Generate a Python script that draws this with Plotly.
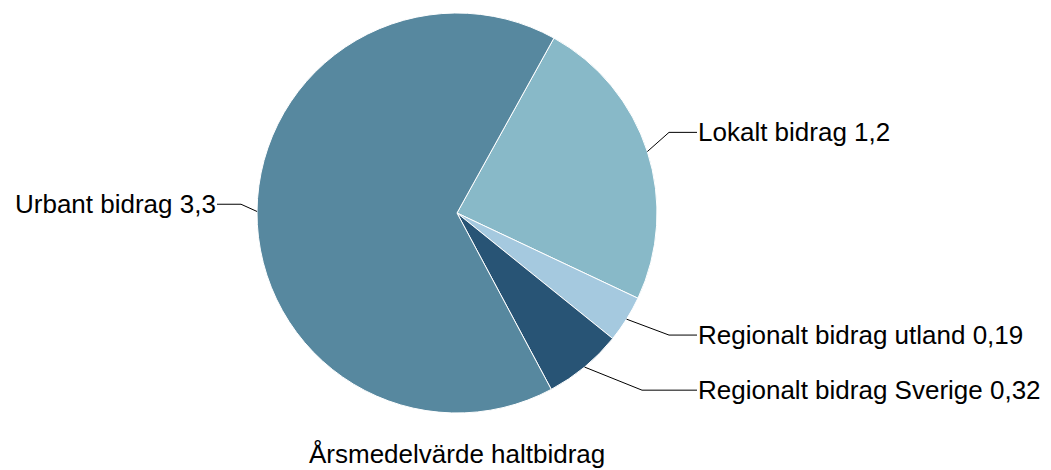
import math
import plotly.graph_objects as go

labels = ["Lokalt bidrag", "Regionalt bidrag utland", "Regionalt bidrag Sverige", "Urbant bidrag"]
values = [1.2, 0.19, 0.32, 3.3]
value_text = ["1,2", "0,19", "0,32", "3,3"]
colors = ["#88B9C8", "#A5C9DF", "#285475", "#57889F"]
title_text = "Årsmedelvärde haltbidrag"

OFF = 8  # default page body margin
W, H = 1051 - OFF, 470 - OFF
ML, MR, MT, MB = 257 - OFF, 394, 13 - OFF, 57
PW = W - ML - MR
PH = H - MT - MB
ROT = 29
FONT = "Liberation Sans, Arial, sans-serif"
FS = 26

fig = go.Figure(go.Pie(
    labels=labels, values=values, sort=False, direction="clockwise",
    rotation=ROT, textinfo="none", hoverinfo="label+value",
    marker=dict(colors=colors, line=dict(color="white", width=1)),
    showlegend=False,
))

# screen pixel -> paper helpers
def px(x):
    return (x - OFF - ML) / PW

def py(y):
    return (H - MB - (y - OFF)) / PH

cx, cy = OFF + ML + PW / 2, OFF + MT + PH / 2
R = min(PW, PH) / 2
total = sum(values)
start = ROT
shapes, annotations = [], []
for lab, v, vt in zip(labels, values, value_text):
    span = v / total * 360
    mid = math.radians(start + span / 2)
    start += span
    ex = cx + R * math.sin(mid)
    ey = cy - R * math.cos(mid)
    right = math.sin(mid) >= 0
    ly = cy - 1.15 * R * math.cos(mid)
    if lab.startswith("Lokalt"):
        ly -= 10
    if lab.startswith("Urbant"):
        ly -= 7
    lx = cx + 1.2 * R if right else cx - 1.2 * R
    hook = 28 if abs(math.cos(mid)) < 0.7 else 55
    bx = lx - hook if right else lx + 24
    path = f"M {px(ex)} {py(ey)} L {px(bx)} {py(ly)} L {px(lx)} {py(ly)}"
    shapes.append(dict(type="path", xref="paper", yref="paper", path=path,
                       line=dict(color="black", width=1)))
    annotations.append(dict(
        x=px(lx + (-1 if right else 1)), y=py(ly), xref="paper", yref="paper",
        text=f"{lab} {vt}", showarrow=False,
        xanchor="left" if right else "right", yanchor="middle",
        font=dict(family=FONT, size=FS, color="black"),
    ))

annotations.append(dict(
    x=px(cx), y=py(454), xref="paper", yref="paper", text=title_text,
    showarrow=False, xanchor="center", yanchor="middle",
    font=dict(family=FONT, size=FS, color="black"),
))

fig.update_layout(
    width=W, height=H,
    margin=dict(l=ML, r=MR, t=MT, b=MB, autoexpand=False),
    paper_bgcolor="white", plot_bgcolor="white",
    shapes=shapes, annotations=annotations,
    font=dict(family=FONT, size=FS),
)

fig.write_html("out.html", config={"displayModeBar": False})
